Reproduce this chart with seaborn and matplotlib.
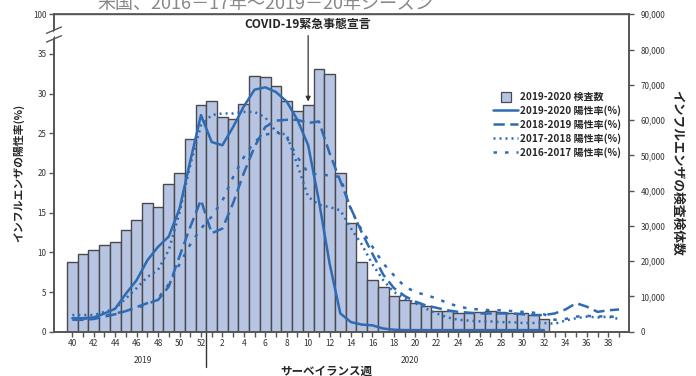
import matplotlib
matplotlib.use('Agg')
import matplotlib.pyplot as plt
from matplotlib.lines import Line2D
from matplotlib.ticker import FuncFormatter
import pandas as pd
import seaborn as sns

sns.set_style('ticks')
plt.rcParams['font.family'] = ['Noto Sans CJK JP', 'DejaVu Sans']

# surveillance weeks 40 (2019) ... 39 (2020)
week_labels = list(range(40, 53)) + list(range(1, 40))

# 2019-2020 specimens tested (weeks 40 .. 32)
tests_1920 = [19850, 22100, 23100, 24700, 25400, 28800, 31600, 36600, 35400, 42000,
              45000, 54600, 64400, 65300, 60900, 60400, 64600, 72500, 72200, 69700,
              65300, 62600, 64400, 74500, 73100, 44900, 30700, 19700, 14600, 12800,
              10200, 9000, 8100, 7400, 6000, 5900, 5200, 5200, 5600, 5800,
              5500, 5300, 5200, 4700, 3500]

# percent positive
rate_1920 = [1.7, 1.7, 1.8, 2.3, 2.9, 4.8, 6.5, 9.0, 10.7, 12.0,
             15.5, 21.5, 27.3, 23.9, 23.5, 25.8, 28.4, 30.5, 30.8, 30.2,
             29.0, 26.7, 23.5, 16.5, 8.6, 2.3, 1.2, 0.9, 0.8, 0.4,
             0.25, 0.2, 0.2, 0.2, 0.2, 0.2, 0.2, 0.2, 0.2, 0.2,
             0.2, 0.2, 0.2, 0.2, 0.2]
rate_1819 = [1.5, 1.5, 1.6, 1.9, 2.2, 2.6, 3.1, 3.6, 4.0, 5.7,
             9.5, 13.2, 16.6, 12.4, 13.0, 16.2, 20.0, 23.3, 25.8, 26.6,
             26.7, 26.7, 26.3, 26.5, 22.5, 19.0, 15.5, 12.5, 9.8, 7.2,
             5.5, 4.5, 3.8, 3.3, 3.0, 2.7, 2.5, 2.4, 2.3, 2.3,
             2.3, 2.3, 2.2, 2.1, 2.1, 2.3, 2.8, 3.6, 3.15, 2.5,
             2.7, 2.8]
rate_1718 = [2.1, 2.1, 2.1, 2.5, 2.9, 4.2, 5.5, 6.9, 7.8, 10.3,
             15.0, 21.0, 26.0, 27.3, 27.5, 27.5, 27.7, 27.7, 27.0, 25.2,
             24.8, 21.0, 17.0, 16.0, 15.7, 15.3, 13.0, 11.0, 8.5, 6.5,
             5.0, 4.2, 3.6, 2.9, 2.3, 1.8, 1.5, 1.4, 1.3, 1.3,
             1.2, 1.2, 1.1, 1.1, 1.1, 1.0, 1.4, 1.7, 1.9, 1.8,
             1.9, 1.6]
rate_1617 = [1.7, 1.6, 1.8, 2.0, 2.3, 2.6, 3.0, 3.4, 4.2, 6.0,
             8.5, 11.0, 13.0, 14.5, 16.5, 19.5, 22.0, 24.0, 24.8, 25.2,
             24.5, 22.0, 20.0, 19.8, 19.7, 19.5, 15.3, 12.8, 10.7, 8.6,
             7.1, 5.7, 5.0, 4.6, 4.2, 3.6, 3.2, 2.9, 2.8, 2.7,
             2.7, 2.6, 2.5, 2.4, 2.2, 1.5, 1.6, 1.9, 2.0, 1.9,
             2.0, 1.7]

BLUE = '#2e6bb3'
BAR = '#b7c4e2'
EDGE = '#4a4a4e'
GRAY = '#555555'

seasons = ['2019-2020', '2018-2019', '2017-2018', '2016-2017']
rates = [rate_1920, rate_1819, rate_1718, rate_1617]
df_lines = pd.concat([pd.DataFrame({'pos': range(len(r)), 'rate': r, 'season': s})
                      for s, r in zip(seasons, rates)], ignore_index=True)
df_bar = pd.DataFrame({'pos': range(len(tests_1920)), 'tests': tests_1920})

fig = plt.figure(figsize=(6.96, 3.76), dpi=100)
ax = fig.add_axes([54 / 696, 1 - 331.7 / 376, 575 / 696, 317.4 / 376])
ax2 = ax.twinx()

sns.barplot(data=df_bar, x='pos', y='tests', ax=ax2, color=BAR, saturation=1,
            edgecolor=EDGE, linewidth=1.0, width=1.0)

dash_styles = {'2019-2020': '', '2018-2019': (4.5, 2.2),
               '2017-2018': (0.8, 1.6), '2016-2017': (1.4, 3.2)}
sns.lineplot(data=df_lines, x='pos', y='rate', style='season', style_order=seasons,
             dashes=dash_styles, color=BLUE, linewidth=1.8, legend=False, ax=ax)

ax.set_zorder(ax2.get_zorder() + 1)
ax.patch.set_visible(False)

ax.set_xlim(-1.71, 51.93)
ax.set_ylim(0, 40)
ax2.set_ylim(0, 90000)

ax.set_xticks(range(len(week_labels)))
ax.set_xticklabels([str(w) if k % 2 == 0 else '' for k, w in enumerate(week_labels)])
ax.set_yticks(list(range(0, 40, 5)) + [40])
ax.set_yticklabels([str(v) for v in range(0, 40, 5)] + ['100'])
ax2.set_yticks(range(0, 90001, 10000))
ax2.yaxis.set_major_formatter(FuncFormatter(lambda v, p: f'{int(v):,}'))

ax.tick_params(axis='x', length=3.5, width=1, color=GRAY, labelsize=6, labelcolor='#333333', pad=2)
ax.tick_params(axis='y', length=3.5, width=1, color=GRAY, labelsize=5.8, labelcolor='#333333', pad=2)
ax2.tick_params(axis='y', length=3.5, width=1, color=GRAY, labelsize=5.8, labelcolor='#333333', pad=5)
for a in (ax, ax2):
    for side in ['left', 'right', 'bottom', 'top']:
        a.spines[side].set_color(GRAY)
        a.spines[side].set_linewidth(1.2)
ax.spines['top'].set_linewidth(1.0)

ax.set_xlabel('')
ax2.set_xlabel('')
ax.set_ylabel('インフルエンザの陽性率(%)', fontsize=7.8, fontweight='bold', labelpad=6)
ax2.set_ylabel('インフルエンザの検査検体数', fontsize=9.2, fontweight='bold', rotation=270,
               labelpad=13)

# axis break marks on left spine
tr = ax.get_yaxis_transform()
ax.fill([-0.004, 0.004, 0.004, -0.004], [36.9, 37.7, 38.1, 37.3], color='white',
        transform=tr, clip_on=False, zorder=5)
for y0, y1 in [(36.5, 37.3), (37.6, 38.4)]:
    ax.plot([-0.013, 0.013], [y0, y1], color=GRAY, lw=1.0, transform=tr,
            clip_on=False, zorder=6)

# year labels and separator
xtr = ax.get_xaxis_transform()
ax.text(6.6, -0.09, '2019', transform=xtr, ha='center', va='center', fontsize=6, color='#333333')
ax.text(31.5, -0.09, '2020', transform=xtr, ha='center', va='center', fontsize=6, color='#333333')
ax.plot([12.5, 12.5], [0, -0.11], color='#333333', lw=1.0, transform=xtr, clip_on=False)
fig.text(326 / 696, 1 - 371 / 376, 'サーベイランス週', ha='center', va='center',
         fontsize=8.3, fontweight='bold')

# COVID-19 annotation
ax.annotate('COVID-19緊急事態宣言', xy=(22, 29.0), xytext=(22, 37.9),
            ha='center', va='bottom', fontsize=8.6, fontweight='bold',
            arrowprops=dict(arrowstyle='-|>', color='#333333', lw=0.9,
                            mutation_scale=7, shrinkA=1, shrinkB=0))

# cut-off title
fig.text(97 / 696, 1 - 9 / 376, '米国、2016－17年～2019－20年シーズン', ha='left',
         va='baseline', fontsize=13, color='#888888')

handles = [Line2D([], [], marker='s', ls='', markersize=7.5, markerfacecolor=BAR,
                  markeredgecolor=EDGE, markeredgewidth=0.9)]
for s in seasons:
    d = dash_styles[s]
    h = Line2D([], [], color=BLUE, lw=1.8)
    if d:
        h.set_dashes(d)
    handles.append(h)
labels = ['2019-2020 検査数'] + [f'{s} 陽性率(%)' for s in seasons]
fig.legend(handles, labels, loc='upper left', bbox_to_anchor=(493 / 696, 1 - 92 / 376),
           frameon=False, prop={'size': 7.2, 'weight': 'bold'}, handlelength=2.5,
           handletextpad=0.25, labelspacing=0.32, borderaxespad=0, borderpad=0)

fig.savefig('out.png', dpi=100)
